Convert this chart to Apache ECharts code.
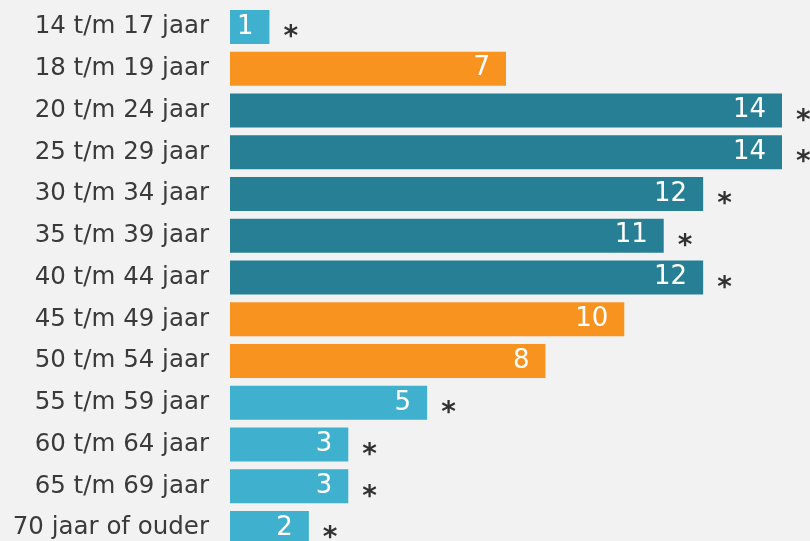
<!DOCTYPE html>
<html>
<head>
<meta charset="utf-8">
<script src="https://cdn.jsdelivr.net/npm/echarts@6/dist/echarts.min.js"></script>
<style>
  html, body { margin: 0; padding: 0; background: #f2f2f2; overflow: hidden; }
  #chart { width: 810px; height: 549px; }
</style>
</head>
<body>
<div id="chart"></div>
<script>
const categories = [
  '14 t/m 17 jaar', '18 t/m 19 jaar', '20 t/m 24 jaar', '25 t/m 29 jaar',
  '30 t/m 34 jaar', '35 t/m 39 jaar', '40 t/m 44 jaar', '45 t/m 49 jaar',
  '50 t/m 54 jaar', '55 t/m 59 jaar', '60 t/m 64 jaar', '65 t/m 69 jaar',
  '70 jaar of ouder'
]
const values = [1, 7, 14, 14, 12, 11, 12, 10, 8, 5, 3, 3, 2]
// which group each bar belongs to: 'low', 'mid', 'high'
const groups = ['low', 'mid', 'high', 'high', 'high', 'high', 'high', 'mid', 'mid', 'low', 'low', 'low', 'low']
const marked = [true, false, true, true, true, true, true, false, false, true, true, true, true]

const colors = { low: '#3fb1ce', mid: '#f7931e', high: '#277f96' }
const font = 'DejaVu Sans, Verdana, sans-serif'

const chart = echarts.init(document.getElementById('chart'))

chart.setOption({
  backgroundColor: '#f2f2f2',
  animation: false,
  grid: { left: 230, right: 28, top: 6, bottom: 0 },
  xAxis: {
    type: 'value',
    min: 0,
    max: 14,
    show: false,
  },
  yAxis: {
    type: 'category',
    data: categories,
    inverse: true,
    axisLine: { show: false },
    axisTick: { show: false },
    splitLine: { show: false },
    axisLabel: { color: '#3a3a3a', fontSize: 24.5, fontFamily: font, margin: 21 },
  },
  series: [
    {
      type: 'bar',
      barWidth: 34,
      data: values.map((v, i) => ({ value: v, itemStyle: { color: colors[groups[i]] } })),
      label: {
        show: true,
        position: 'insideRight',
        distance: 16,
        color: '#fff',
        fontSize: 26,
        fontFamily: font,
      },
    },
    {
      type: 'scatter',
      symbolSize: 0,
      data: values.map((v, i) => (marked[i] ? v : null)),
      label: {
        show: true,
        position: 'right',
        distance: 14,
        offset: [0, 11],
        formatter: '*',
        color: '#000',
        fontSize: 28,
        fontWeight: 'bold',
        fontFamily: font,
      },
      silent: true,
    },
  ],
})
</script>
</body>
</html>
